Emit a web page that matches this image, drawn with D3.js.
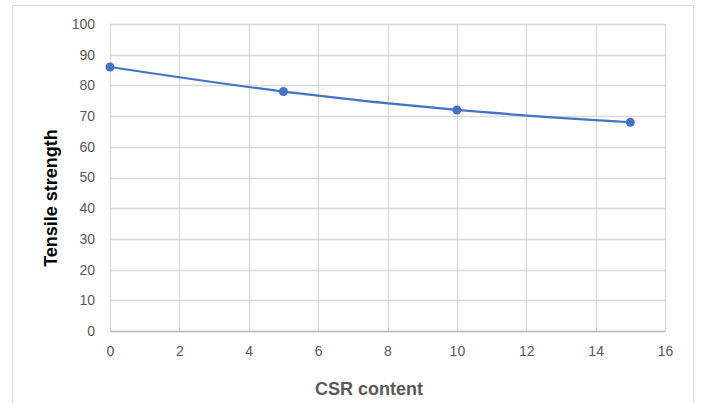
<!DOCTYPE html>
<html>
<head>
<meta charset="utf-8">
<script src="https://cdn.jsdelivr.net/npm/d3@7"></script>
<style>
  body { margin: 0; background: #fff; }
  text { font-family: "Liberation Sans", "DejaVu Sans", sans-serif; }
</style>
</head>
<body>
<svg id="chart" width="701" height="403"></svg>
<script>
var csrContent = [0, 5, 10, 15];
var tensileStrength = [86, 78, 72, 68];
var xTicks = [0, 2, 4, 6, 8, 10, 12, 14, 16];
var yTicks = [0, 10, 20, 30, 40, 50, 60, 70, 80, 90, 100];

var svg = d3.select("#chart");
var margin = {top: 24, right: 36, bottom: 72, left: 110};
var width = 701 - margin.left - margin.right;
var height = 403 - margin.top - margin.bottom;

// chart frame
svg.append("rect")
    .attr("x", 12.5).attr("y", 5.5)
    .attr("width", 681).attr("height", 410)
    .attr("fill", "#fff").attr("stroke", "#d9d9d9");

var x = d3.scaleLinear().domain([0, 16]).range([0, width]);
var y = d3.scaleLinear().domain([0, 100]).range([height, 0]);

var g = svg.append("g")
    .attr("transform", "translate(" + margin.left + "," + margin.top + ")");

// grid
g.append("g").selectAll("line.h").data(yTicks).enter().append("line")
    .attr("x1", 0).attr("x2", width)
    .attr("y1", function(d) { return Math.round(y(d)) + 0.5; })
    .attr("y2", function(d) { return Math.round(y(d)) + 0.5; })
    .attr("stroke", "#d9d9d9").attr("stroke-width", 1.3);

g.append("g").selectAll("line.v").data(xTicks).enter().append("line")
    .attr("y1", 0).attr("y2", height)
    .attr("x1", function(d) { return Math.round(x(d)) + 0.5; })
    .attr("x2", function(d) { return Math.round(x(d)) + 0.5; })
    .attr("stroke", "#d9d9d9").attr("stroke-width", 1.3);

// axes labels
var xAxis = d3.axisBottom(x).tickValues(xTicks).tickSize(0).tickPadding(15);
g.append("g").attr("transform", "translate(0," + height + ")").call(xAxis)
    .call(function(s) { s.select(".domain").attr("stroke", "#bfbfbf").attr("stroke-width", 1.3); })
    .selectAll("text").attr("fill", "#595959").style("font-size", "14px");

var yAxis = d3.axisLeft(y).tickValues(yTicks).tickSize(0).tickPadding(15);
g.append("g").call(yAxis)
    .call(function(s) { s.select(".domain").remove(); })
    .selectAll("text").attr("fill", "#595959").style("font-size", "14px");

// series
var data = csrContent.map(function(c, i) { return {x: c, y: tensileStrength[i]}; });
var line = d3.line()
    .x(function(d) { return x(d.x); })
    .y(function(d) { return y(d.y); })
    .curve(d3.curveCatmullRom.alpha(0.5));

g.append("path").datum(data)
    .attr("d", line)
    .attr("fill", "none")
    .attr("stroke", "#4472c4")
    .attr("stroke-width", 2.2);

g.selectAll("circle").data(data).enter().append("circle")
    .attr("cx", function(d) { return x(d.x); })
    .attr("cy", function(d) { return y(d.y); })
    .attr("r", 4.5)
    .attr("fill", "#4472c4");

// axis titles
svg.append("text")
    .attr("x", 369).attr("y", 395)
    .attr("text-anchor", "middle")
    .attr("fill", "#595959")
    .style("font-size", "18px").style("font-weight", "bold")
    .text("CSR content");

svg.append("text")
    .attr("transform", "translate(57,198) rotate(-90)")
    .attr("text-anchor", "middle")
    .attr("fill", "#000")
    .style("font-size", "18px").style("font-weight", "bold")
    .text("Tensile strength");
</script>
</body>
</html>
